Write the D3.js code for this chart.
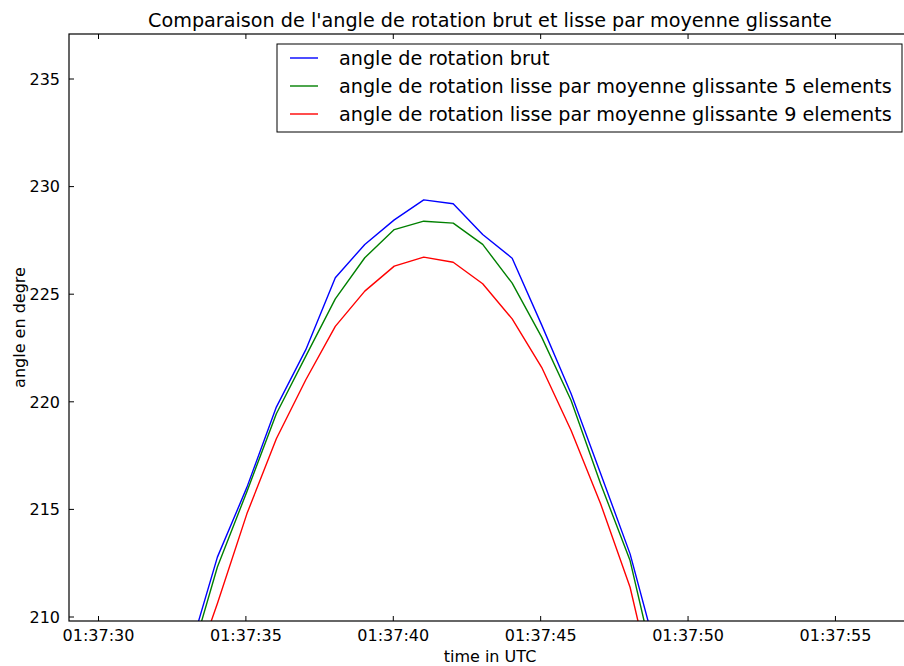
<!DOCTYPE html>
<html>
<head>
<meta charset="utf-8">
<script src="https://cdn.jsdelivr.net/npm/d3@7"></script>
<style>
  html, body { margin: 0; padding: 0; background: #fff; }
  svg { display: block; font-family: "DejaVu Sans", sans-serif; }
</style>
</head>
<body>
<svg id="chart" width="904" height="666"></svg>
<script>
// ---- data ----
const timeLabels = ["01:37:33","01:37:34","01:37:35","01:37:36","01:37:37","01:37:38","01:37:39","01:37:40","01:37:41","01:37:42","01:37:43","01:37:44","01:37:45","01:37:46","01:37:47","01:37:48","01:37:49"];
const angleBrut = [208.1, 212.76, 216.0, 219.73, 222.4, 225.74, 227.29, 228.43, 229.36, 229.18, 227.75, 226.65, 223.55, 220.35, 216.65, 212.91, 207.8];
const angleLisse5 = [207.6, 212.3, 215.8, 219.42, 222.1, 224.76, 226.67, 227.98, 228.37, 228.28, 227.29, 225.49, 222.98, 220.04, 216.17, 212.6, 206.7];
const angleLisse9 = [206.7, 210.6, 214.77, 218.26, 221.0, 223.48, 225.12, 226.28, 226.70, 226.46, 225.46, 223.83, 221.58, 218.64, 215.24, 211.36, 205.5];
const seriesNames = ["angle de rotation brut",
                     "angle de rotation lisse par moyenne glissante 5 elements",
                     "angle de rotation lisse par moyenne glissante 9 elements"];
const yTicks = [210, 215, 220, 225, 230, 235];
const titleText = "Comparaison de l'angle de rotation brut et lisse par moyenne glissante";
const xLabel = "time in UTC";
const yLabel = "angle en degre";

(function () {
// ---- layout ----
const svg = d3.select("#chart");
const pL = 69, pR = 911, pT = 34, pB = 621;
const parseT = s => new Date("2015-01-01T" + s + ".050Z");
const xMin = new Date("2015-01-01T01:37:29.016Z"), xMax = new Date("2015-01-01T01:37:57.580Z");
const x = d3.scaleUtc().domain([xMin, xMax]).range([pL, pR]);
const y = d3.scaleLinear().domain([210, 235]).range([616.5, 78.5]);
const yMin = y.invert(pB), yMax = y.invert(pT);
y.domain([yMin, yMax]).range([pB, pT]);

svg.append("rect").attr("width", 904).attr("height", 666).attr("fill", "#fff");

svg.append("defs").append("clipPath").attr("id", "plotclip")
  .append("rect").attr("x", pL).attr("y", pT).attr("width", pR - pL).attr("height", pB - pT);

const colors = ["#0000ff", "#008000", "#ff0000"];
const seriesData = [angleBrut, angleLisse5, angleLisse9];
const line = d3.line().x(d => x(d.t)).y(d => y(d.v));
const plot = svg.append("g").attr("clip-path", "url(#plotclip)");
seriesData.forEach((vals, i) => {
  const pts = vals.map((v, j) => ({t: parseT(timeLabels[j]), v}));
  plot.append("path").datum(pts).attr("d", line)
    .attr("fill", "none").attr("stroke", colors[i]).attr("stroke-width", 1.4)
    .attr("stroke-linejoin", "round");
});

// axes (classic matplotlib: ticks inside, mirrored)
const fmt = d3.utcFormat("%H:%M:%S");
const xTickVals = d3.utcSecond.every(5).range(xMin, xMax);
const xAxisB = d3.axisBottom(x).tickValues(xTickVals).tickFormat(fmt).tickSizeInner(-5).tickSizeOuter(0).tickPadding(9);
const gx = svg.append("g").attr("transform", `translate(0,${pB})`).call(xAxisB);
const xAxisT = d3.axisTop(x).tickValues(xTickVals).tickFormat("").tickSizeInner(-5).tickSizeOuter(0);
const gxt = svg.append("g").attr("transform", `translate(0,${pT})`).call(xAxisT);
const yAxisL = d3.axisLeft(y).tickValues(yTicks).tickFormat(d3.format("d")).tickSizeInner(-5).tickSizeOuter(0).tickPadding(9);
const gy = svg.append("g").attr("transform", `translate(${pL},0)`).call(yAxisL);
const yAxisR = d3.axisRight(y).tickValues(yTicks).tickFormat("").tickSizeInner(-5).tickSizeOuter(0);
const gyr = svg.append("g").attr("transform", `translate(${pR},0)`).call(yAxisR);
[gx, gxt, gy, gyr].forEach(g => {
  g.select(".domain").remove();
  g.selectAll("line").attr("stroke", "#000").attr("stroke-width", 1);
  g.selectAll("text").attr("font-family", "DejaVu Sans").attr("font-size", 16).attr("fill", "#000");
});
gy.selectAll("text").attr("dy", "0.36em");

// frame
svg.append("rect").attr("x", pL).attr("y", pT).attr("width", pR - pL).attr("height", pB - pT)
  .attr("fill", "none").attr("stroke", "#000").attr("stroke-width", 1.2);

// title & labels
svg.append("text").attr("x", (pL + pR) / 2).attr("y", 27).attr("text-anchor", "middle")
  .attr("font-size", 19.2).text(titleText);
svg.append("text").attr("x", (pL + pR) / 2).attr("y", 662).attr("text-anchor", "middle")
  .attr("font-size", 16).text(xLabel);
svg.append("text").attr("transform", `translate(25,${(pT + pB) / 2}) rotate(-90)`).attr("text-anchor", "middle")
  .attr("font-size", 16).text(yLabel);

// legend
const lg = svg.append("g");
const lgRight = pR - 9, lgTop = 44;
lg.append("rect").attr("x", 277).attr("y", lgTop).attr("width", lgRight - 277).attr("height", 88)
  .attr("fill", "#fff").attr("stroke", "#000").attr("stroke-width", 1);
seriesNames.forEach((name, i) => {
  const cy = 58 + i * 28;
  lg.append("line").attr("x1", 290).attr("x2", 318).attr("y1", cy).attr("y2", cy)
    .attr("stroke", colors[i]).attr("stroke-width", 1.4);
  lg.append("text").attr("x", 339).attr("y", cy).attr("dy", "0.36em").attr("font-size", 19.2).text(name);
});
})();
</script>
</body>
</html>
